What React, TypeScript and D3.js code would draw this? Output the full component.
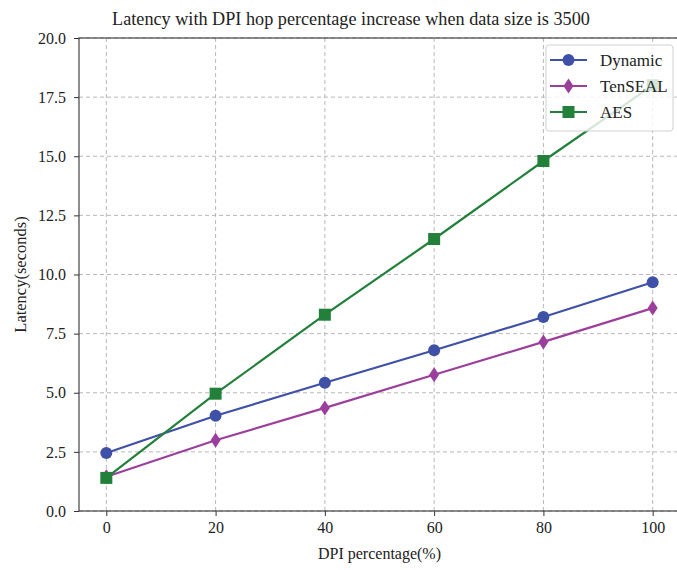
import * as d3 from 'd3';
import { useEffect, useRef } from 'react';

const percents = [0, 20, 40, 60, 80, 100];
const dynamicVals = [2.45, 4.03, 5.42, 6.8, 8.2, 9.67];
const tensealVals = [1.45, 2.99, 4.36, 5.76, 7.15, 8.58];
const aesVals = [1.4, 4.96, 8.3, 11.5, 14.8, 18.0];
const yTicks = [0, 2.5, 5, 7.5, 10, 12.5, 15, 17.5, 20];

const series = [
  { name: 'Dynamic', values: dynamicVals, color: '#3f51a6', marker: 'circle' },
  { name: 'TenSEAL', values: tensealVals, color: '#9c3f9c', marker: 'diamond' },
  { name: 'AES', values: aesVals, color: '#23803a', marker: 'square' },
];

const width = 677, height = 570;
const margin = { top: 38, right: -3, bottom: 59, left: 79 };
const font = '"Liberation Serif", "Times New Roman", serif';

const App = () => {
  const svgRef = useRef(null);

  useEffect(() => {
    const svg = d3.select(svgRef.current);
    svg.selectAll('*').remove();
    const w = width - margin.left - margin.right;
    const h = height - margin.top - margin.bottom;

    const x = d3.scaleLinear().domain([-5, 105]).range([0, w]);
    const y = d3.scaleLinear().domain([0, 20]).range([h, 0]);

    const g = svg.append('g').attr('transform', `translate(${margin.left},${margin.top})`);

    // grid
    g.selectAll('.gx').data(percents).enter().append('line')
      .attr('x1', d => x(d)).attr('x2', d => x(d)).attr('y1', 0).attr('y2', h)
      .attr('stroke', '#b0b0b0').attr('stroke-width', 0.9).attr('stroke-dasharray', '4,3');
    g.selectAll('.gy').data(yTicks).enter().append('line')
      .attr('x1', 0).attr('x2', w).attr('y1', d => y(d)).attr('y2', d => y(d))
      .attr('stroke', '#b0b0b0').attr('stroke-width', 0.9).attr('stroke-dasharray', '4,3');

    // axes
    const xa = g.append('g').attr('transform', `translate(0,${h})`)
      .call(d3.axisBottom(x).tickValues(percents).tickSize(5).tickPadding(6));
    const ya = g.append('g')
      .call(d3.axisLeft(y).tickValues(yTicks).tickSize(5).tickPadding(8).tickFormat(d3.format('.1f')));
    [xa, ya].forEach(a => {
      a.selectAll('text').attr('font-family', font).attr('font-size', 16).attr('fill', '#222');
      a.select('.domain').remove();
      a.selectAll('line').attr('stroke', '#333');
    });
    g.append('rect').attr('x', 0).attr('y', 0).attr('width', w).attr('height', h)
      .attr('fill', 'none').attr('stroke', '#333').attr('stroke-width', 1.1);

    // lines and markers
    const line = d3.line<number>().x((_, i) => x(percents[i])).y(d => y(d));
    const drawMarker = (sel, kind, color, cx, cy) => {
      if (kind === 'circle') sel.append('circle').attr('cx', cx).attr('cy', cy).attr('r', 6).attr('fill', color);
      else if (kind === 'square') sel.append('rect').attr('x', cx - 6).attr('y', cy - 6).attr('width', 12).attr('height', 12).attr('fill', color);
      else sel.append('path').attr('d', `M${cx},${cy - 7.5}L${cx + 5},${cy}L${cx},${cy + 7.5}L${cx - 5},${cy}Z`).attr('fill', color);
    };
    series.forEach(s => {
      g.append('path').datum(s.values).attr('d', line).attr('fill', 'none')
        .attr('stroke', s.color).attr('stroke-width', 2.2);
      s.values.forEach((v, i) => drawMarker(g, s.marker, s.color, x(percents[i]), y(v)));
    });

    // legend
    const lg = svg.append('g').attr('transform', 'translate(546,45)');
    lg.append('rect').attr('width', 127).attr('height', 86).attr('rx', 3)
      .attr('fill', 'white').attr('fill-opacity', 0.8).attr('stroke', '#d0d0d0');
    series.forEach((s, i) => {
      const ly = 15 + i * 26;
      lg.append('line').attr('x1', 4).attr('x2', 41).attr('y1', ly).attr('y2', ly)
        .attr('stroke', s.color).attr('stroke-width', 2.2);
      drawMarker(lg, s.marker, s.color, 22.5, ly);
      lg.append('text').attr('x', 54).attr('y', ly).attr('dy', '0.35em')
        .attr('font-family', font).attr('font-size', 17).attr('fill', '#222').text(s.name);
    });

    // titles
    svg.append('text').attr('x', 351).attr('y', 25).attr('text-anchor', 'middle')
      .attr('font-family', font).attr('font-size', 18.2).attr('fill', '#222')
      .text('Latency with DPI hop percentage increase when data size is 3500');
    svg.append('text').attr('x', margin.left + x(50)).attr('y', 559).attr('text-anchor', 'middle')
      .attr('font-family', font).attr('font-size', 16).attr('fill', '#222').text('DPI percentage(%)');
    svg.append('text').attr('transform', `translate(26,${margin.top + h / 2}) rotate(-90)`)
      .attr('text-anchor', 'middle').attr('font-family', font).attr('font-size', 16.5).attr('fill', '#222')
      .text('Latency(seconds)');
  }, []);

  return <svg ref={svgRef} width={width} height={height} style={{ position: 'absolute', left: 0, top: 0 }}></svg>;
};

export default App;
